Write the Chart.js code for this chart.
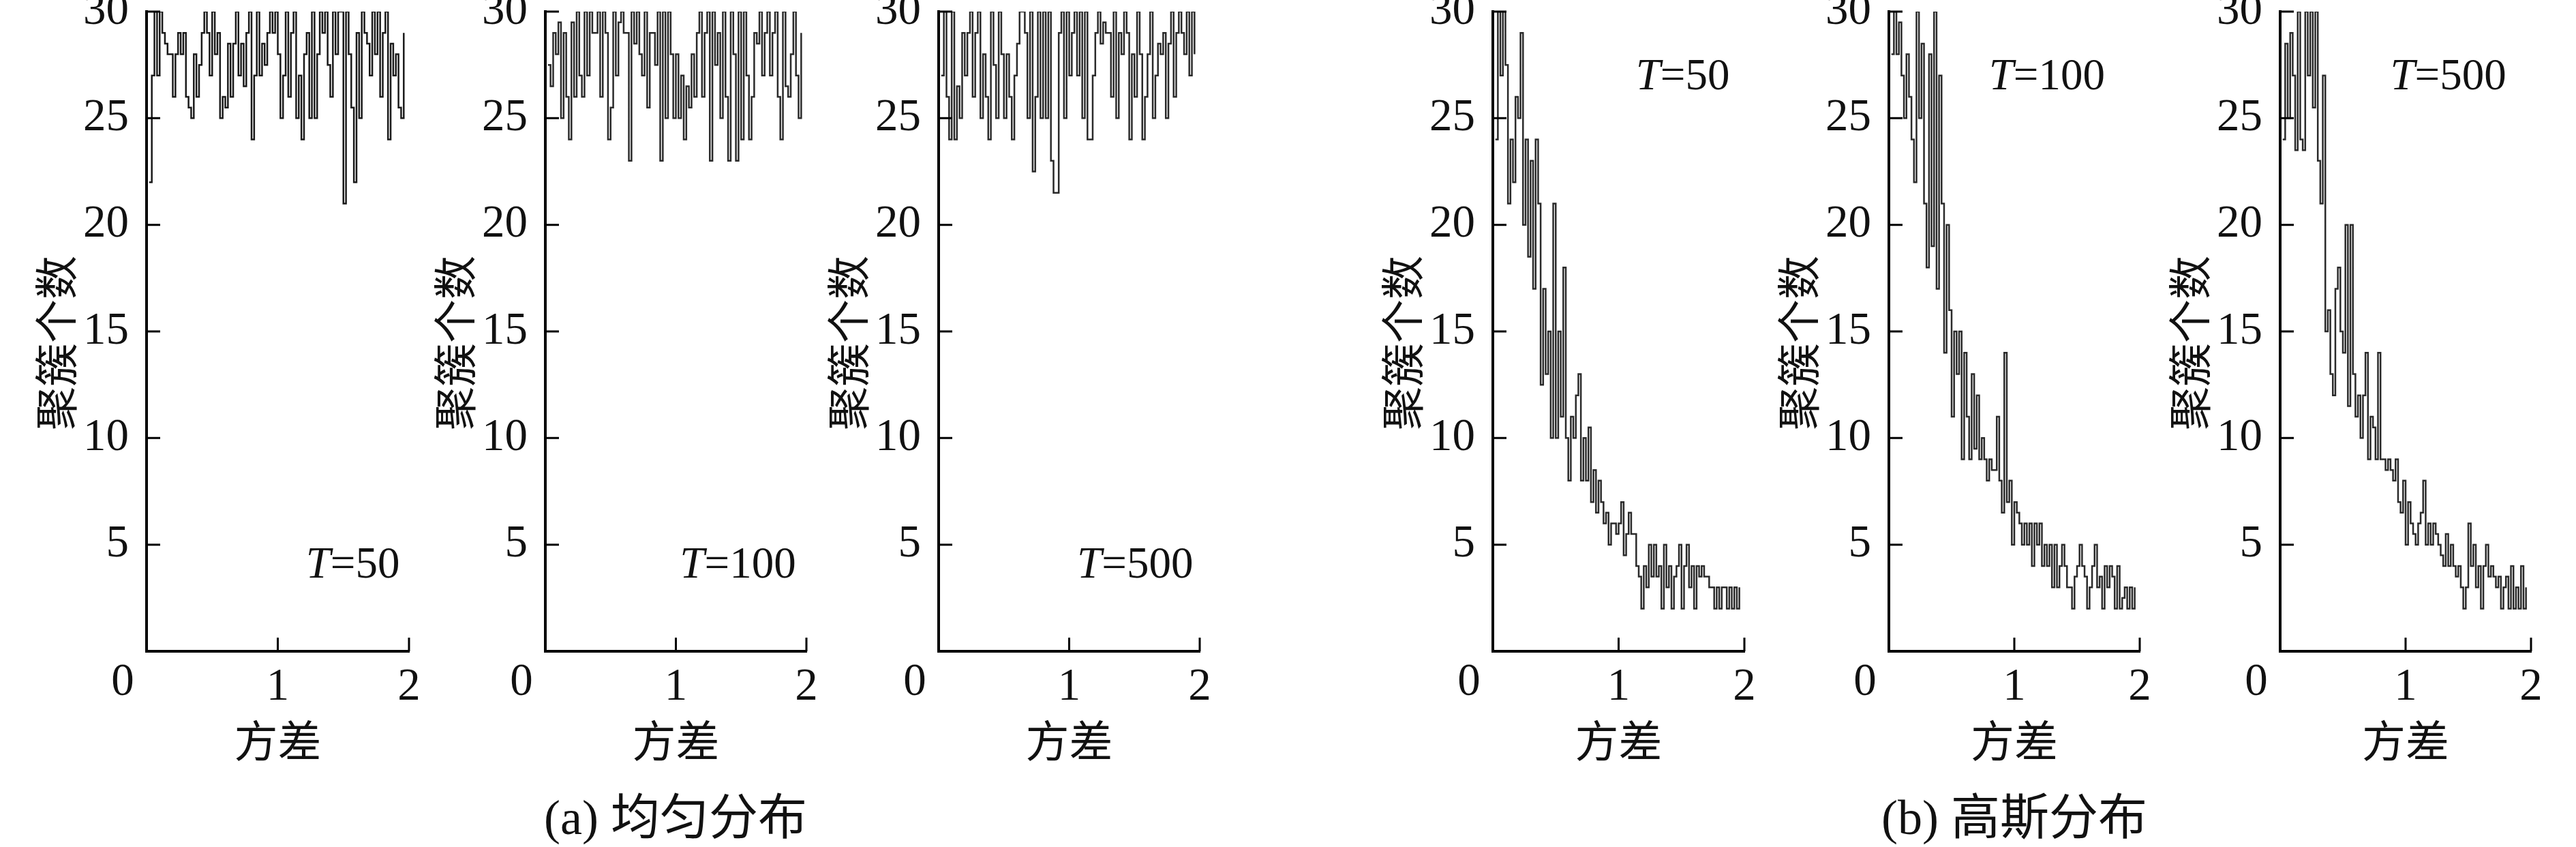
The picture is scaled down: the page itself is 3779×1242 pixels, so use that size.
<!DOCTYPE html>
<html>
<head>
<meta charset="utf-8">
<script src="https://cdn.jsdelivr.net/npm/chart.js@4.4.1/dist/chart.umd.min.js"></script>
<style>
  html, body { margin: 0; padding: 0; background: #fff; }
  #stage { position: relative; width: 3779px; height: 1242px; overflow: hidden; background: #fff; }
  .caption {
    position: absolute; top: 1160px; transform: translateX(-50%);
    font-family: "Liberation Serif", "Noto Sans CJK SC", serif; font-size: 72px;
    line-height: 78px; white-space: nowrap; color: #111;
  }
</style>
</head>
<body>
<div id="stage">
  <div class="caption" style="left:991px">(a) 均匀分布</div>
  <div class="caption" style="left:2955px">(b) 高斯分布</div>
</div>
<script>
// x grid shared by every panel (variance)
const variance = [
  0.02, 0.04, 0.06, 0.08, 0.10, 0.12, 0.14, 0.16, 0.18, 0.20,
  0.22, 0.24, 0.26, 0.28, 0.30, 0.32, 0.34, 0.36, 0.38, 0.40,
  0.42, 0.44, 0.46, 0.48, 0.50, 0.52, 0.54, 0.56, 0.58, 0.60,
  0.62, 0.64, 0.66, 0.68, 0.70, 0.72, 0.74, 0.76, 0.78, 0.80,
  0.82, 0.84, 0.86, 0.88, 0.90, 0.92, 0.94, 0.96, 0.98, 1.00,
  1.02, 1.04, 1.06, 1.08, 1.10, 1.12, 1.14, 1.16, 1.18, 1.20,
  1.22, 1.24, 1.26, 1.28, 1.30, 1.32, 1.34, 1.36, 1.38, 1.40,
  1.42, 1.44, 1.46, 1.48, 1.50, 1.52, 1.54, 1.56, 1.58, 1.60,
  1.62, 1.64, 1.66, 1.68, 1.70, 1.72, 1.74, 1.76, 1.78, 1.80,
  1.82, 1.84, 1.86, 1.88, 1.90, 1.92, 1.94, 1.96,
];

// (a) uniform distribution, cluster counts
const uniformT50 = [
  22, 27, 30, 27, 30, 29, 28.5, 28, 28, 26,
  28, 29, 28, 29, 26, 25.5, 25, 28, 26, 27.5,
  29, 30, 29, 27, 30, 28, 29, 25, 26, 25.5,
  28.5, 26, 28.5, 30, 27, 28.5, 26.5, 29, 30, 24,
  27, 30, 27, 28.5, 27.5, 29, 30, 29, 30, 28,
  25, 27, 30, 26, 29, 30, 25, 27, 24, 28,
  29, 25, 30, 25, 28, 30, 29, 30, 27.5, 26,
  30, 28, 30, 30, 21, 30, 28, 25.5, 22, 29,
  25, 30, 29, 28.5, 27, 30, 28, 30, 26, 29,
  30, 24, 28.5, 27, 28, 25.5, 25, 29,
];
const uniformT100 = [
  27.5, 26.5, 29, 28, 29.5, 25, 29, 26, 24, 29.5,
  26, 30, 27, 26, 30, 27, 30, 29, 29, 30,
  26, 30, 29, 24, 25.5, 30, 27, 29.5, 30, 29,
  29, 23, 30, 28.5, 30, 28, 27, 30, 25.5, 29,
  29, 27.5, 30, 23, 30, 25, 30, 28, 25, 28,
  25, 27, 24, 26.5, 25.5, 28, 26, 29, 30, 26,
  29, 30, 23, 30, 27.5, 29, 25, 30, 26, 23,
  30, 28, 23, 30, 24, 30, 27, 24, 26, 29,
  28.5, 30, 27, 29, 30, 27, 29, 30, 26, 24,
  30, 26.5, 26, 28, 30, 27, 25, 29,
];
const uniformT500 = [
  27, 30, 26, 24, 30, 24, 26.5, 25, 29, 27,
  29, 30, 26, 29, 30, 25, 28, 26, 24, 30,
  27.5, 25, 30, 28, 25, 28, 26, 24, 27, 28.5,
  30, 30, 29, 25, 30, 22.5, 26, 30, 25, 30,
  25, 30, 23, 21.5, 21.5, 29, 30, 25, 30, 27,
  29, 30, 27, 30, 25, 30, 24, 24, 27, 29,
  30, 28.5, 29.5, 29, 29, 26, 30, 25, 29, 28,
  30, 29, 24, 28, 26, 30, 28, 24, 26, 28,
  30, 25, 27, 28.5, 28, 29, 25, 28.5, 30, 26,
  29, 30, 29, 28, 30, 27, 30, 28,
];

// (b) gaussian distribution, cluster counts
const gaussT50 = [
  24, 30, 27, 30, 27.5, 21, 24, 22, 26, 25,
  29, 20, 24, 18.5, 23, 17, 24, 21, 12.5, 17,
  13, 15, 10, 21, 10, 15, 11, 18, 10, 8,
  11, 10, 12, 13, 8, 10, 8, 10.5, 7, 8.5,
  6.5, 8, 7, 6, 6.5, 5, 6, 6, 5.5, 6,
  7, 4.5, 5.5, 6.5, 5.5, 5.5, 4, 3.5, 2, 4,
  3, 5, 3.5, 5, 3.5, 4, 2, 5, 3, 4,
  2, 3.5, 4, 5, 2, 4, 5, 3, 4, 2,
  4, 3.5, 4, 3.5, 3.5, 3, 3, 2, 3, 2,
  3, 3, 2, 3, 2, 3, 2, 3,
];
const gaussT100 = [
  28, 30, 28, 29.5, 27, 25, 28, 26, 24, 22,
  30, 25, 28.5, 21, 18, 28, 19, 30, 17, 27,
  21, 14, 20, 16, 11, 15, 13, 15, 9, 14,
  11, 9, 13, 9.5, 12, 9, 10, 9, 8, 9,
  8.5, 8.5, 11, 8, 6.5, 14, 7, 8, 5, 7,
  6.5, 6, 5, 6, 5, 6, 4, 6, 5, 6,
  4, 5, 4, 5, 3, 5, 3, 4, 5, 4,
  3, 3, 2, 3.5, 4, 5, 4, 3.5, 2, 3,
  4, 5, 3, 3.5, 2, 4, 3, 4, 3.5, 2,
  4, 2, 2.5, 3, 2, 3, 2, 3,
];
const gaussT500 = [
  24, 28.5, 25, 29, 27, 23.5, 30, 24, 23.5, 30,
  27, 30, 25.5, 30, 23, 21, 27, 15, 16, 13,
  12, 17, 18, 15, 14, 20, 11.5, 20, 13, 11,
  12, 10, 12, 14, 9, 11, 10.5, 9, 14, 9,
  9, 8.5, 9, 8.5, 8, 9, 7, 6.5, 8, 5,
  7, 6, 5.5, 5, 6, 6.5, 8, 5, 6, 5,
  6, 5.5, 5, 4.5, 4, 5.5, 4, 5, 4, 3.5,
  4, 3, 2, 3, 6, 4, 5, 3, 4, 2,
  4, 5, 3.5, 4, 3.5, 3, 3.5, 2, 3, 3.5,
  2, 4, 2, 3, 2, 4, 2, 3,
];

const yTicks = [0, 5, 10, 15, 20, 25, 30];
const xTicks = [0, 1, 2];
const yTitle = '聚簇个数';
const xTitle = '方差';

const H = 1242;
const AXIS_W = 215;      // canvas left edge -> y axis
const RIGHT_PAD = 45;
const PLOT_TOP = 17;
const PLOT_BOTTOM = 955;
const SERIF = "'Liberation Serif', 'Times New Roman', serif";
const CJK = "'Noto Sans CJK SC', sans-serif";
const INK = '#111';
const TICK_FONT = 67;

const panels = [
  { axisX: 215,  plotW: 385, series: uniformT50,  t: '50',  tAt: [1.93, 4.0],  tAlign: 'right',  color: '#1a1a1a' },
  { axisX: 800,  plotW: 383, series: uniformT100, t: '100', tAt: [1.92, 4.0],  tAlign: 'right',  color: '#2a2a2a' },
  { axisX: 1377, plotW: 383, series: uniformT500, t: '500', tAt: [1.95, 4.0],  tAlign: 'right',  color: '#2a2a2a' },
  { axisX: 2190, plotW: 369, series: gaussT50,    t: '50',  tAt: [1.51, 26.9], tAlign: 'center', color: '#2a2a2a' },
  { axisX: 2771, plotW: 368, series: gaussT100,   t: '100', tAt: [1.26, 26.9], tAlign: 'center', color: '#2a2a2a' },
  { axisX: 3345, plotW: 368, series: gaussT500,   t: '500', tAt: [1.34, 26.9], tAlign: 'center', color: '#2a2a2a' },
];

function decor(p) {
  return {
    id: 'decor',
    afterDraw(chart) {
      const { ctx, chartArea: a, scales: { x, y } } = chart;
      ctx.save();
      // inward tick marks
      ctx.strokeStyle = '#000';
      ctx.lineWidth = 3;
      ctx.beginPath();
      yTicks.filter(v => v > 0).forEach(v => {
        const py = y.getPixelForValue(v);
        ctx.moveTo(a.left, py); ctx.lineTo(a.left + 20, py);
      });
      xTicks.filter(v => v > 0).forEach(v => {
        const px = x.getPixelForValue(v);
        ctx.moveTo(px, a.bottom); ctx.lineTo(px, a.bottom - 20);
      });
      ctx.stroke();

      ctx.fillStyle = INK;
      ctx.textAlign = 'center';
      ctx.textBaseline = 'middle';

      // shared origin label
      ctx.font = `${TICK_FONT}px ${SERIF}`;
      ctx.fillText('0', a.left - 35, a.bottom + 46);

      // y axis title, rotated
      ctx.save();
      ctx.translate(a.left - 133, 503);
      ctx.rotate(-Math.PI / 2);
      ctx.font = `64px ${CJK}`;
      ctx.fillText(yTitle, 0, 0);
      ctx.restore();

      // T=... label
      const italic = `italic 65px ${SERIF}`;
      const upright = `65px ${SERIF}`;
      ctx.font = italic;
      const wT = ctx.measureText('T').width;
      ctx.font = upright;
      const rest = '=' + p.t;
      const wR = ctx.measureText(rest).width;
      const ax = x.getPixelForValue(p.tAt[0]);
      const ay = y.getPixelForValue(p.tAt[1]);
      const x0 = p.tAlign === 'right' ? ax - wT - wR : ax - (wT + wR) / 2;
      ctx.textAlign = 'left';
      ctx.font = italic;
      ctx.fillText('T', x0, ay);
      ctx.font = upright;
      ctx.fillText(rest, x0 + wT, ay);
      ctx.restore();
    },
  };
}

const stage = document.getElementById('stage');

panels.forEach(p => {
  const canvas = document.createElement('canvas');
  const left = p.axisX - AXIS_W;
  const width = AXIS_W + p.plotW + RIGHT_PAD;
  canvas.width = width;
  canvas.height = H;
  canvas.style.cssText = `position:absolute;left:${left}px;top:0;width:${width}px;height:${H}px;`;
  stage.appendChild(canvas);

  new Chart(canvas, {
    type: 'line',
    data: {
      datasets: [{
        data: variance.map((v, i) => ({ x: v, y: p.series[i] })),
        borderColor: p.color,
        borderWidth: 2.5,
        pointRadius: 0,
        stepped: true,
        fill: false,
      }],
    },
    options: {
      responsive: false,
      animation: false,
      devicePixelRatio: 1,
      layout: { padding: { left: 0, top: PLOT_TOP, right: RIGHT_PAD, bottom: 0 } },
      plugins: { legend: { display: false }, tooltip: { enabled: false } },
      scales: {
        x: {
          type: 'linear', min: 0, max: 2,
          grid: { display: false },
          border: { display: true, color: '#000', width: 4 },
          ticks: {
            stepSize: 1, autoSkip: false, maxRotation: 0, padding: 12, color: INK,
            font: { family: SERIF, size: TICK_FONT, lineHeight: 1 },
            callback: v => (v === 0 ? '' : v),
          },
          title: {
            display: true, text: xTitle, color: INK,
            font: { family: CJK, size: 64, lineHeight: 1.2 },
            padding: { top: 0, bottom: 118 },
          },
          afterFit: s => { s.height = H - PLOT_BOTTOM; s.paddingLeft = 0; s.paddingRight = 0; },
        },
        y: {
          min: 0, max: 30,
          grid: { display: false },
          border: { display: true, color: '#000', width: 4 },
          ticks: {
            stepSize: 5, padding: 18, color: INK,
            font: { family: SERIF, size: TICK_FONT, lineHeight: 1 },
            callback: v => (v === 0 ? '' : v),
          },
          title: { display: false },
          afterFit: s => { s.width = AXIS_W; s.paddingTop = 0; s.paddingBottom = 0; },
        },
      },
    },
    plugins: [decor(p)],
  });
});
</script>
</body>
</html>
